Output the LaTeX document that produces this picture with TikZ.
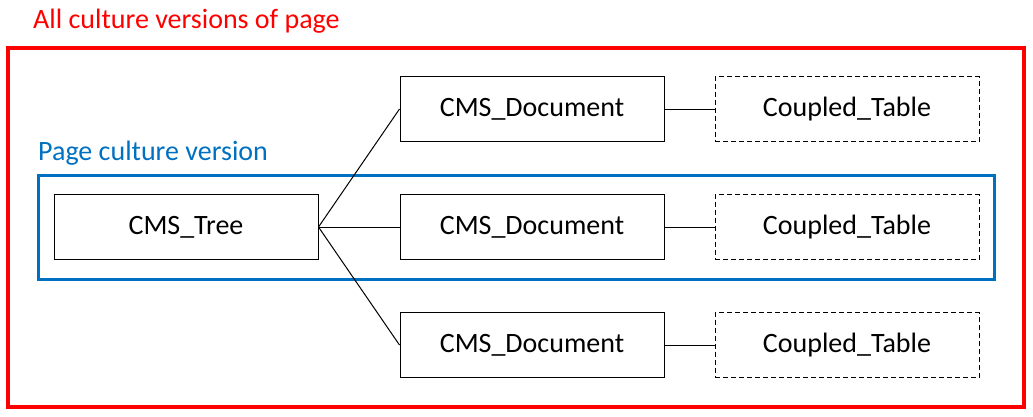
\documentclass[tikz,border=0pt]{standalone}
\usepackage{fontspec}
\setmainfont{Carlito}
\usepackage{xcolor}
\definecolor{pageblue}{HTML}{0070C0}
\usetikzlibrary{positioning}

\begin{document}
\begin{tikzpicture}[x=1pt, y=-1pt, every node/.style={font=\fontsize{28}{33}\selectfont},
	box/.style={draw, line width=1pt, minimum width=264pt, minimum height=65pt, inner sep=0pt},
	coupled/.style={box, dash pattern=on 5pt off 3pt},
	link/.style={line width=1pt},
	frametitle/.style={anchor=base west, inner sep=0pt},]

\useasboundingbox (0,0) rectangle (1033,416);

% frames
\draw [red, line width=4.5pt] (8,48) rectangle (1024,407);
\draw [pageblue, line width=3pt] (38,175) rectangle (994,279);
\node [frametitle, text=red] (alltitle) at (33,28) {All culture versions of page};
\node [frametitle, text=pageblue] (pagetitle) at (38,160) {Page culture version};

\node [box] (tree) at (186,227) {CMS\_Tree};
\node [box] (doc2) at (532,227) {CMS\_Document};
\node [box, above=52pt of doc2] (doc1) {CMS\_Document};
\node [box, below=52pt of doc2] (doc3) {CMS\_Document};

\foreach \i in {1,2,3} {
	\node [coupled, right=50pt of doc\i] (table\i) {Coupled\_Table};
	\draw [link] (tree.east) -- (doc\i.west);
	\draw [link] (doc\i.east) -- (table\i.west);
}

\end{tikzpicture}
\end{document}
